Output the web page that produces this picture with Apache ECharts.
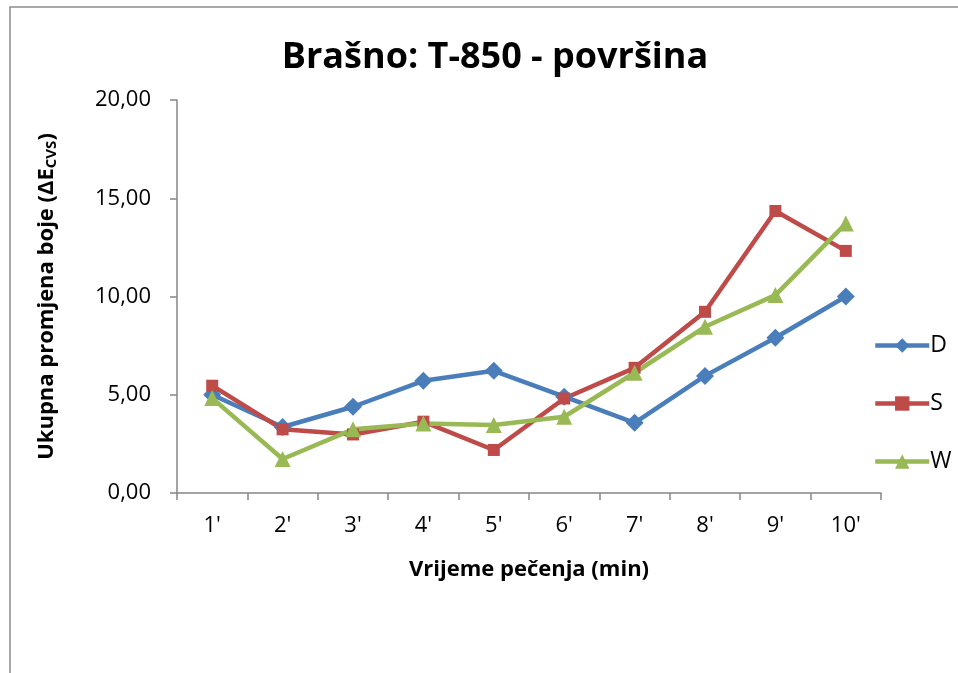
<!DOCTYPE html>
<html>
<head>
<meta charset="utf-8">
<script src="https://cdn.jsdelivr.net/npm/echarts@6/dist/echarts.min.js"></script>
<style>
  html, body { margin: 0; padding: 0; background: #fff; }
  #chart { width: 958px; height: 673px; }
</style>
</head>
<body>
<div id="chart"></div>
<script>
// kategorije (minute pečenja)
var categories = ["1'", "2'", "3'", "4'", "5'", "6'", "7'", "8'", "9'", "10'"];
// vrijednosti serija
var dValues = [5.00, 3.36, 4.39, 5.71, 6.22, 4.90, 3.57, 5.96, 7.90, 10.00];
var sValues = [5.46, 3.24, 2.98, 3.63, 2.19, 4.81, 6.37, 9.22, 14.35, 12.32];
var wValues = [4.83, 1.73, 3.24, 3.54, 3.46, 3.88, 6.12, 8.46, 10.07, 13.71];

var fontName = 'Open Sans';
var axisGrey = '#868686';

var chart = echarts.init(document.getElementById('chart'));

function serie(name, data, color, symbol, size) {
  return {
    name: name,
    type: 'line',
    data: data,
    symbol: symbol,
    symbolSize: size,
    showAllSymbol: true,
    lineStyle: { color: color, width: 4.5 },
    itemStyle: { color: color },
    emphasis: { disabled: true }
  };
}

chart.setOption({
  animation: false,
  textStyle: { fontFamily: fontName },
  title: {
    text: 'Brašno: T-850 - površina',
    left: 490,
    top: 35,
    textAlign: 'center',
    textStyle: { fontFamily: fontName, fontWeight: 'bold', fontSize: 36, color: '#000' }
  },
  //okvir grafikona
  graphic: [{
    type: 'rect',
    shape: { x: 10, y: 7, width: 1000, height: 1000 },
    style: { fill: 'none', stroke: '#8c8c8c', lineWidth: 1.5 }
  }],
  legend: {
    orient: 'vertical',
    left: 868,
    top: 329,
    itemGap: 35,
    itemWidth: 54,
    itemHeight: 18,
    lineStyle: { width: 4.5 },
    textStyle: { fontFamily: fontName, fontSize: 23, color: '#000', padding: [0, 0, 0, -4] },
    data: ['D', 'S', 'W']
  },
  grid: { left: 177, right: 77, top: 100, bottom: 180 },
  xAxis: {
    type: 'category',
    data: categories,
    boundaryGap: true,
    name: 'Vrijeme pečenja (min)',
    nameLocation: 'middle',
    nameGap: 66,
    nameTextStyle: { fontFamily: fontName, fontWeight: 'bold', fontSize: 22, color: '#000' },
    axisLine: { lineStyle: { color: axisGrey, width: 1.5 } },
    axisTick: { show: true, length: 7, lineStyle: { color: axisGrey, width: 1.5 } },
    axisLabel: { fontFamily: fontName, fontSize: 22, color: '#000', margin: 22 },
    splitLine: { show: false }
  },
  yAxis: {
    type: 'value',
    min: 0,
    max: 20,
    interval: 5,
    name: 'Ukupna promjena boje (ΔE{sub|CVS})',
    nameLocation: 'middle',
    nameGap: 118,
    nameRotate: 90,
    nameTextStyle: {
      fontFamily: fontName, fontWeight: 'bold', fontSize: 22, color: '#000',
      rich: {
        sub: { fontFamily: fontName, fontWeight: 'bold', fontSize: 15, color: '#000', verticalAlign: 'bottom', padding: [10, 0, 0, 0] }
      }
    },
    axisLine: { show: true, lineStyle: { color: axisGrey, width: 1.5 } },
    axisTick: { show: true, length: 7, lineStyle: { color: axisGrey, width: 1.5 } },
    axisLabel: {
      fontFamily: fontName, fontSize: 22, color: '#000', margin: 26,
      formatter: function (v) { return v.toFixed(2).replace('.', ','); }
    },
    splitLine: { show: false }
  },
  series: [
    serie('D', dValues, '#4A7EBB', 'diamond', 18),
    serie('S', sValues, '#BE4B48', 'rect', 12),
    serie('W', wValues, '#98B954', 'triangle', 16)
  ]
});
</script>
</body>
</html>
